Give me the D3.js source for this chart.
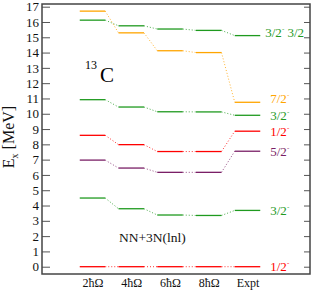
<!DOCTYPE html>
<html>
<head>
<meta charset="utf-8">
<script src="https://d3js.org/d3.v7.min.js"></script>
<style>
  body { margin: 0; background: #fff; }
  svg text { font-family: "Liberation Serif", "Times New Roman", serif; }
</style>
</head>
<body>
<div id="chart"></div>
<script>
// model spaces + experiment
var columns = ["2ħΩ", "4ħΩ", "6ħΩ", "8ħΩ", "Expt"];

// excitation energies (MeV), one array per state
var state32a = [16.12, 15.75, 15.54, 15.45, 15.11];
var state72  = [16.71, 15.29, 14.12, 14.00, 10.75];
var state32b = [10.92, 10.44, 10.13, 10.12, 9.90];
var state12a = [8.59, 7.98, 7.53, 7.53, 8.86];
var state52  = [6.97, 6.45, 6.17, 6.17, 7.55];
var state32c = [4.49, 3.79, 3.38, 3.35, 3.68];
var state12b = [0, 0, 0, 0, 0];

var spins = ["3/2", "7/2", "3/2", "1/2", "5/2", "3/2", "1/2"];
var extra = [" 3/2", "", "", "", "", "", ""];
var yTicks = d3.range(0, 18);

var levels = [
  { v: state32a, c: "#1f9a1f", dx: -5, dy: -3 },
  { v: state72,  c: "#ffa500", dx: 0,  dy: -4 },
  { v: state32b, c: "#1f9a1f", dx: 0,  dy: 0 },
  { v: state12a, c: "#ff0000", dx: 0,  dy: 0 },
  { v: state52,  c: "#7a1f66", dx: 0,  dy: 0 },
  { v: state32c, c: "#1f9a1f", dx: 0,  dy: 0 },
  { v: state12b, c: "#ff0000", dx: 0,  dy: 0 }
];

var W = 317, H = 294;
var frame = { left: 42, right: 310, top: 4, bottom: 274 };
var half = 12.75;

var svg = d3.select("#chart").append("svg")
  .attr("width", W).attr("height", H);

var x = d3.scalePoint().domain(columns).range([92.5, 247.5]);
var y = d3.scaleLinear().domain([-0.477, 17.176]).range([frame.bottom, frame.top]);

// axes
svg.append("g")
  .attr("transform", "translate(" + frame.left + ",0)")
  .call(d3.axisLeft(y).tickValues(yTicks).tickSizeInner(-8).tickSizeOuter(0).tickPadding(3))
  .call(g => g.select(".domain").remove())
  .call(g => g.selectAll("line").attr("stroke", "#555"))
  .call(g => g.selectAll("text").attr("font-size", 13).attr("fill", "#111"));

svg.append("g")
  .attr("transform", "translate(" + frame.right + ",0)")
  .call(d3.axisRight(y).tickValues(yTicks).tickSizeInner(-6).tickSizeOuter(0).tickFormat(""))
  .call(g => g.select(".domain").remove())
  .call(g => g.selectAll("line").attr("stroke", "#555"));

svg.append("g")
  .attr("transform", "translate(0," + frame.bottom + ")")
  .call(d3.axisBottom(x).tickSize(0).tickPadding(4))
  .call(g => g.select(".domain").remove())
  .call(g => g.selectAll("text").attr("font-size", 12).attr("fill", "#111"));

svg.append("rect")
  .attr("x", frame.left).attr("y", frame.top)
  .attr("width", frame.right - frame.left).attr("height", frame.bottom - frame.top)
  .attr("fill", "none").attr("stroke", "#444").attr("stroke-width", 1.5);

// levels and dotted connectors
levels.forEach(function (s, k) {
  var g = svg.append("g");
  g.selectAll("line.lvl").data(s.v).join("line")
    .attr("class", "lvl")
    .attr("x1", (d, i) => x(columns[i]) - half)
    .attr("x2", (d, i) => x(columns[i]) + half)
    .attr("y1", d => y(d)).attr("y2", d => y(d))
    .attr("stroke", s.c).attr("stroke-width", 1.3);

  g.selectAll("line.con").data(s.v.slice(1)).join("line")
    .attr("class", "con")
    .attr("x1", (d, i) => x(columns[i]) + half)
    .attr("x2", (d, i) => x(columns[i + 1]) - half)
    .attr("y1", (d, i) => y(s.v[i]))
    .attr("y2", d => y(d))
    .attr("stroke", s.c).attr("stroke-width", 1)
    .attr("stroke-dasharray", "1,2").attr("opacity", 0.8);

  var last = s.v[s.v.length - 1];
  var t = g.append("text")
    .attr("x", x("Expt") + half + 10 + s.dx)
    .attr("y", y(last) + 4.5 + s.dy)
    .attr("font-size", 13).attr("fill", s.c);
  t.append("tspan").text(spins[k]);
  t.append("tspan").attr("font-size", 7).attr("dy", -6).text("-");
  if (extra[k]) t.append("tspan").attr("dy", 6).text(extra[k]);
});

// annotations
var lab = svg.append("text").attr("x", 85).attr("y", 82).attr("fill", "#000");
lab.append("tspan").attr("font-size", 12).attr("dy", -13).text("13");
lab.append("tspan").attr("font-size", 21).attr("dx", 3).attr("dy", 13).text("C");

svg.append("text").attr("x", 119).attr("y", 242)
  .attr("font-size", 13.5).attr("fill", "#111").text("NN+3N(lnl)");

var yl = svg.append("text")
  .attr("transform", "translate(14,137) rotate(-90)")
  .attr("text-anchor", "middle").attr("font-size", 16).attr("fill", "#111");
yl.append("tspan").text("E");
yl.append("tspan").attr("font-size", 10).attr("dy", 4).text("x");
yl.append("tspan").attr("dy", -4).text(" [MeV]");
</script>
</body>
</html>
